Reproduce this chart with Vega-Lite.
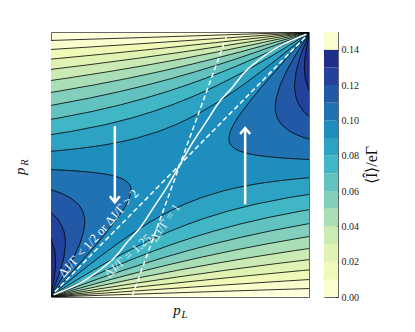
{
"$schema":"https://vega.github.io/schema/vega-lite/v6.json",
"background":"white",
"padding":{"left":12,"top":31,"right":5,"bottom":5},
"spacing":15,
"bounds":"flush",
"config":{
 "view":{"stroke":"#666","strokeWidth":1,"fill":"#ffffd9"},
 "axis":{"labelFont":"Liberation Serif","labelFontSize":10,"labelColor":"#222","tickColor":"#222","tickWidth":0.8,"domain":false,"grid":false,"tickSize":-4,"labelPadding":7,"labelFlush":false,"labelOverlap":false,"titleFont":"Liberation Serif"}
},
"datasets":{
"c":[
{"L":0.01,"h":"lo","x":-1,"y":-1},{"L":0.01,"h":"lo","x":-0.39,"y":-0.98},{"L":0.01,"h":"lo","x":0.232,"y":-0.96},{"L":0.01,"h":"lo","x":0.868,"y":-0.94},{"L":0.01,"h":"lo","x":1.518,"y":-0.92},{"L":0.01,"h":"lo","x":2,"y":0.012},
{"L":0.01,"h":"hi","x":1,"y":1},{"L":0.01,"h":"hi","x":0.39,"y":0.98},{"L":0.01,"h":"hi","x":-0.232,"y":0.96},{"L":0.01,"h":"hi","x":-0.868,"y":0.94},{"L":0.01,"h":"hi","x":-1.518,"y":0.92},{"L":0.01,"h":"hi","x":-2,"y":-0.012},
{"L":0.02,"h":"lo","x":-1,"y":-1},{"L":0.02,"h":"lo","x":-0.571,"y":-0.97},{"L":0.02,"h":"lo","x":-0.129,"y":-0.94},{"L":0.02,"h":"lo","x":0.327,"y":-0.91},{"L":0.02,"h":"lo","x":0.799,"y":-0.88},{"L":0.02,"h":"lo","x":1.288,"y":-0.85},{"L":0.02,"h":"lo","x":2,"y":0.012},
{"L":0.02,"h":"hi","x":1,"y":1},{"L":0.02,"h":"hi","x":0.571,"y":0.97},{"L":0.02,"h":"hi","x":0.129,"y":0.94},{"L":0.02,"h":"hi","x":-0.327,"y":0.91},{"L":0.02,"h":"hi","x":-0.799,"y":0.88},{"L":0.02,"h":"hi","x":-1.288,"y":0.85},{"L":0.02,"h":"hi","x":-2,"y":-0.012},
{"L":0.03,"h":"lo","x":-1,"y":-1},{"L":0.03,"h":"lo","x":-0.644,"y":-0.96},{"L":0.03,"h":"lo","x":-0.274,"y":-0.92},{"L":0.03,"h":"lo","x":0.111,"y":-0.88},{"L":0.03,"h":"lo","x":0.515,"y":-0.84},{"L":0.03,"h":"lo","x":0.94,"y":-0.8},{"L":0.03,"h":"lo","x":1.389,"y":-0.76},{"L":0.03,"h":"lo","x":2,"y":0.012},
{"L":0.03,"h":"hi","x":1,"y":1},{"L":0.03,"h":"hi","x":0.644,"y":0.96},{"L":0.03,"h":"hi","x":0.274,"y":0.92},{"L":0.03,"h":"hi","x":-0.111,"y":0.88},{"L":0.03,"h":"hi","x":-0.515,"y":0.84},{"L":0.03,"h":"hi","x":-0.94,"y":0.8},{"L":0.03,"h":"hi","x":-1.389,"y":0.76},{"L":0.03,"h":"hi","x":-2,"y":-0.012},
{"L":0.04,"h":"lo","x":-1,"y":-1},{"L":0.04,"h":"lo","x":-0.691,"y":-0.95},{"L":0.04,"h":"lo","x":-0.367,"y":-0.9},{"L":0.04,"h":"lo","x":-0.026,"y":-0.85},{"L":0.04,"h":"lo","x":0.336,"y":-0.8},{"L":0.04,"h":"lo","x":0.723,"y":-0.75},{"L":0.04,"h":"lo","x":1.14,"y":-0.7},{"L":0.04,"h":"lo","x":2,"y":0.012},
{"L":0.04,"h":"hi","x":1,"y":1},{"L":0.04,"h":"hi","x":0.691,"y":0.95},{"L":0.04,"h":"hi","x":0.367,"y":0.9},{"L":0.04,"h":"hi","x":0.026,"y":0.85},{"L":0.04,"h":"hi","x":-0.336,"y":0.8},{"L":0.04,"h":"hi","x":-0.723,"y":0.75},{"L":0.04,"h":"hi","x":-1.14,"y":0.7},{"L":0.04,"h":"hi","x":-2,"y":-0.012},
{"L":0.05,"h":"lo","x":-1,"y":-1},{"L":0.05,"h":"lo","x":-0.773,"y":-0.95},{"L":0.05,"h":"lo","x":-0.537,"y":-0.9},{"L":0.05,"h":"lo","x":-0.289,"y":-0.85},{"L":0.05,"h":"lo","x":-0.026,"y":-0.8},{"L":0.05,"h":"lo","x":0.253,"y":-0.75},{"L":0.05,"h":"lo","x":0.553,"y":-0.7},{"L":0.05,"h":"lo","x":0.878,"y":-0.65},{"L":0.05,"h":"lo","x":1.235,"y":-0.6},{"L":0.05,"h":"lo","x":2,"y":0.012},
{"L":0.05,"h":"hi","x":1,"y":1},{"L":0.05,"h":"hi","x":0.773,"y":0.95},{"L":0.05,"h":"hi","x":0.537,"y":0.9},{"L":0.05,"h":"hi","x":0.289,"y":0.85},{"L":0.05,"h":"hi","x":0.026,"y":0.8},{"L":0.05,"h":"hi","x":-0.253,"y":0.75},{"L":0.05,"h":"hi","x":-0.553,"y":0.7},{"L":0.05,"h":"hi","x":-0.878,"y":0.65},{"L":0.05,"h":"hi","x":-1.235,"y":0.6},{"L":0.05,"h":"hi","x":-2,"y":-0.012},
{"L":0.06,"h":"lo","x":-1,"y":-1},{"L":0.06,"h":"lo","x":-0.829,"y":-0.95},{"L":0.06,"h":"lo","x":-0.65,"y":-0.9},{"L":0.06,"h":"lo","x":-0.464,"y":-0.85},{"L":0.06,"h":"lo","x":-0.268,"y":-0.8},{"L":0.06,"h":"lo","x":-0.06,"y":-0.75},{"L":0.06,"h":"lo","x":0.162,"y":-0.7},{"L":0.06,"h":"lo","x":0.401,"y":-0.65},{"L":0.06,"h":"lo","x":0.662,"y":-0.6},{"L":0.06,"h":"lo","x":0.951,"y":-0.55},{"L":0.06,"h":"lo","x":1.275,"y":-0.5},{"L":0.06,"h":"lo","x":2,"y":0.012},
{"L":0.06,"h":"hi","x":1,"y":1},{"L":0.06,"h":"hi","x":0.829,"y":0.95},{"L":0.06,"h":"hi","x":0.65,"y":0.9},{"L":0.06,"h":"hi","x":0.464,"y":0.85},{"L":0.06,"h":"hi","x":0.268,"y":0.8},{"L":0.06,"h":"hi","x":0.06,"y":0.75},{"L":0.06,"h":"hi","x":-0.162,"y":0.7},{"L":0.06,"h":"hi","x":-0.401,"y":0.65},{"L":0.06,"h":"hi","x":-0.662,"y":0.6},{"L":0.06,"h":"hi","x":-0.951,"y":0.55},{"L":0.06,"h":"hi","x":-1.275,"y":0.5},{"L":0.06,"h":"hi","x":-2,"y":-0.012},
{"L":0.07,"h":"lo","x":-1,"y":-1},{"L":0.07,"h":"lo","x":-0.868,"y":-0.95},{"L":0.07,"h":"lo","x":-0.731,"y":-0.9},{"L":0.07,"h":"lo","x":-0.589,"y":-0.85},{"L":0.07,"h":"lo","x":-0.44,"y":-0.8},{"L":0.07,"h":"lo","x":-0.283,"y":-0.75},{"L":0.07,"h":"lo","x":-0.117,"y":-0.7},{"L":0.07,"h":"lo","x":0.061,"y":-0.65},{"L":0.07,"h":"lo","x":0.253,"y":-0.6},{"L":0.07,"h":"lo","x":0.465,"y":-0.55},{"L":0.07,"h":"lo","x":0.7,"y":-0.5},{"L":0.07,"h":"lo","x":0.968,"y":-0.45},{"L":0.07,"h":"lo","x":1.28,"y":-0.4},{"L":0.07,"h":"lo","x":2,"y":0.012},
{"L":0.07,"h":"hi","x":1,"y":1},{"L":0.07,"h":"hi","x":0.868,"y":0.95},{"L":0.07,"h":"hi","x":0.731,"y":0.9},{"L":0.07,"h":"hi","x":0.589,"y":0.85},{"L":0.07,"h":"hi","x":0.44,"y":0.8},{"L":0.07,"h":"hi","x":0.283,"y":0.75},{"L":0.07,"h":"hi","x":0.117,"y":0.7},{"L":0.07,"h":"hi","x":-0.061,"y":0.65},{"L":0.07,"h":"hi","x":-0.253,"y":0.6},{"L":0.07,"h":"hi","x":-0.465,"y":0.55},{"L":0.07,"h":"hi","x":-0.7,"y":0.5},{"L":0.07,"h":"hi","x":-0.968,"y":0.45},{"L":0.07,"h":"hi","x":-1.28,"y":0.4},{"L":0.07,"h":"hi","x":-2,"y":-0.012},
{"L":0.08,"h":"lo","x":-1,"y":-1},{"L":0.08,"h":"lo","x":-0.897,"y":-0.95},{"L":0.08,"h":"lo","x":-0.792,"y":-0.9},{"L":0.08,"h":"lo","x":-0.683,"y":-0.85},{"L":0.08,"h":"lo","x":-0.569,"y":-0.8},{"L":0.08,"h":"lo","x":-0.451,"y":-0.75},{"L":0.08,"h":"lo","x":-0.327,"y":-0.7},{"L":0.08,"h":"lo","x":-0.195,"y":-0.65},{"L":0.08,"h":"lo","x":-0.053,"y":-0.6},{"L":0.08,"h":"lo","x":0.1,"y":-0.55},{"L":0.08,"h":"lo","x":0.269,"y":-0.5},{"L":0.08,"h":"lo","x":0.458,"y":-0.45},{"L":0.08,"h":"lo","x":0.676,"y":-0.4},{"L":0.08,"h":"lo","x":0.935,"y":-0.35},{"L":0.08,"h":"lo","x":1.255,"y":-0.3},{"L":0.08,"h":"lo","x":2,"y":0.012},
{"L":0.08,"h":"hi","x":1,"y":1},{"L":0.08,"h":"hi","x":0.897,"y":0.95},{"L":0.08,"h":"hi","x":0.792,"y":0.9},{"L":0.08,"h":"hi","x":0.683,"y":0.85},{"L":0.08,"h":"hi","x":0.569,"y":0.8},{"L":0.08,"h":"hi","x":0.451,"y":0.75},{"L":0.08,"h":"hi","x":0.327,"y":0.7},{"L":0.08,"h":"hi","x":0.195,"y":0.65},{"L":0.08,"h":"hi","x":0.053,"y":0.6},{"L":0.08,"h":"hi","x":-0.1,"y":0.55},{"L":0.08,"h":"hi","x":-0.269,"y":0.5},{"L":0.08,"h":"hi","x":-0.458,"y":0.45},{"L":0.08,"h":"hi","x":-0.676,"y":0.4},{"L":0.08,"h":"hi","x":-0.935,"y":0.35},{"L":0.08,"h":"hi","x":-1.255,"y":0.3},{"L":0.08,"h":"hi","x":-2,"y":-0.012},
{"L":0.09,"h":"lo","x":-1,"y":-1},{"L":0.09,"h":"lo","x":-0.92,"y":-0.95},{"L":0.09,"h":"lo","x":-0.839,"y":-0.9},{"L":0.09,"h":"lo","x":-0.756,"y":-0.85},{"L":0.09,"h":"lo","x":-0.67,"y":-0.8},{"L":0.09,"h":"lo","x":-0.582,"y":-0.75},{"L":0.09,"h":"lo","x":-0.49,"y":-0.7},{"L":0.09,"h":"lo","x":-0.393,"y":-0.65},{"L":0.09,"h":"lo","x":-0.292,"y":-0.6},{"L":0.09,"h":"lo","x":-0.184,"y":-0.55},{"L":0.09,"h":"lo","x":-0.067,"y":-0.5},{"L":0.09,"h":"lo","x":0.062,"y":-0.45},{"L":0.09,"h":"lo","x":0.207,"y":-0.4},{"L":0.09,"h":"lo","x":0.374,"y":-0.35},{"L":0.09,"h":"lo","x":0.576,"y":-0.3},{"L":0.09,"h":"lo","x":0.833,"y":-0.25},{"L":0.09,"h":"lo","x":0.994,"y":-0.225},{"L":0.09,"h":"lo","x":1.187,"y":-0.2},{"L":0.09,"h":"lo","x":2,"y":0.012},
{"L":0.09,"h":"hi","x":1,"y":1},{"L":0.09,"h":"hi","x":0.92,"y":0.95},{"L":0.09,"h":"hi","x":0.839,"y":0.9},{"L":0.09,"h":"hi","x":0.756,"y":0.85},{"L":0.09,"h":"hi","x":0.67,"y":0.8},{"L":0.09,"h":"hi","x":0.582,"y":0.75},{"L":0.09,"h":"hi","x":0.49,"y":0.7},{"L":0.09,"h":"hi","x":0.393,"y":0.65},{"L":0.09,"h":"hi","x":0.292,"y":0.6},{"L":0.09,"h":"hi","x":0.184,"y":0.55},{"L":0.09,"h":"hi","x":0.067,"y":0.5},{"L":0.09,"h":"hi","x":-0.062,"y":0.45},{"L":0.09,"h":"hi","x":-0.207,"y":0.4},{"L":0.09,"h":"hi","x":-0.374,"y":0.35},{"L":0.09,"h":"hi","x":-0.576,"y":0.3},{"L":0.09,"h":"hi","x":-0.833,"y":0.25},{"L":0.09,"h":"hi","x":-0.994,"y":0.225},{"L":0.09,"h":"hi","x":-1.187,"y":0.2},{"L":0.09,"h":"hi","x":-2,"y":-0.012},
{"L":0.1,"h":"lo","x":-1,"y":-1},{"L":0.1,"h":"lo","x":-0.939,"y":-0.95},{"L":0.1,"h":"lo","x":-0.877,"y":-0.9},{"L":0.1,"h":"lo","x":-0.814,"y":-0.85},{"L":0.1,"h":"lo","x":-0.751,"y":-0.8},{"L":0.1,"h":"lo","x":-0.686,"y":-0.75},{"L":0.1,"h":"lo","x":-0.62,"y":-0.7},{"L":0.1,"h":"lo","x":-0.552,"y":-0.65},{"L":0.1,"h":"lo","x":-0.483,"y":-0.6},{"L":0.1,"h":"lo","x":-0.411,"y":-0.55},{"L":0.1,"h":"lo","x":-0.335,"y":-0.5},{"L":0.1,"h":"lo","x":-0.255,"y":-0.45},{"L":0.1,"h":"lo","x":-0.169,"y":-0.4},{"L":0.1,"h":"lo","x":-0.074,"y":-0.35},{"L":0.1,"h":"lo","x":0.034,"y":-0.3},{"L":0.1,"h":"lo","x":0.163,"y":-0.25},{"L":0.1,"h":"lo","x":0.328,"y":-0.2},{"L":0.1,"h":"lo","x":0.434,"y":-0.175},{"L":0.1,"h":"lo","x":0.567,"y":-0.15},{"L":0.1,"h":"lo","x":0.665,"y":-0.135},{"L":0.1,"h":"lo","x":0.784,"y":-0.12},{"L":0.1,"h":"lo","x":0.878,"y":-0.11},{"L":0.1,"h":"lo","x":0.989,"y":-0.1},{"L":0.1,"h":"lo","x":1.286,"y":-0.08},{"L":0.1,"h":"lo","x":2,"y":0.012},
{"L":0.1,"h":"hi","x":1,"y":1},{"L":0.1,"h":"hi","x":0.939,"y":0.95},{"L":0.1,"h":"hi","x":0.877,"y":0.9},{"L":0.1,"h":"hi","x":0.814,"y":0.85},{"L":0.1,"h":"hi","x":0.751,"y":0.8},{"L":0.1,"h":"hi","x":0.686,"y":0.75},{"L":0.1,"h":"hi","x":0.62,"y":0.7},{"L":0.1,"h":"hi","x":0.552,"y":0.65},{"L":0.1,"h":"hi","x":0.483,"y":0.6},{"L":0.1,"h":"hi","x":0.411,"y":0.55},{"L":0.1,"h":"hi","x":0.335,"y":0.5},{"L":0.1,"h":"hi","x":0.255,"y":0.45},{"L":0.1,"h":"hi","x":0.169,"y":0.4},{"L":0.1,"h":"hi","x":0.074,"y":0.35},{"L":0.1,"h":"hi","x":-0.034,"y":0.3},{"L":0.1,"h":"hi","x":-0.163,"y":0.25},{"L":0.1,"h":"hi","x":-0.328,"y":0.2},{"L":0.1,"h":"hi","x":-0.434,"y":0.175},{"L":0.1,"h":"hi","x":-0.567,"y":0.15},{"L":0.1,"h":"hi","x":-0.665,"y":0.135},{"L":0.1,"h":"hi","x":-0.784,"y":0.12},{"L":0.1,"h":"hi","x":-0.878,"y":0.11},{"L":0.1,"h":"hi","x":-0.989,"y":0.1},{"L":0.1,"h":"hi","x":-1.286,"y":0.08},{"L":0.1,"h":"hi","x":-2,"y":-0.012},
{"L":0.11,"h":"lo","x":-1,"y":-1},{"L":0.11,"h":"lo","x":-0.954,"y":-0.95},{"L":0.11,"h":"lo","x":-0.908,"y":-0.9},{"L":0.11,"h":"lo","x":-0.816,"y":-0.8},{"L":0.11,"h":"lo","x":-0.727,"y":-0.7},{"L":0.11,"h":"lo","x":-0.639,"y":-0.6},{"L":0.11,"h":"lo","x":-0.555,"y":-0.5},{"L":0.11,"h":"lo","x":-0.476,"y":-0.4},{"L":0.11,"h":"lo","x":-0.441,"y":-0.35},{"L":0.11,"h":"lo","x":-0.41,"y":-0.3},{"L":0.11,"h":"lo","x":-0.386,"y":-0.25},{"L":0.11,"h":"lo","x":-0.375,"y":-0.2},{"L":0.11,"h":"lo","x":-0.378,"y":-0.17},{"L":0.11,"h":"lo","x":-0.387,"y":-0.15},{"L":0.11,"h":"lo","x":-0.419,"y":-0.12},{"L":0.11,"h":"lo","x":-0.46,"y":-0.1},{"L":0.11,"h":"lo","x":-0.532,"y":-0.08},{"L":0.11,"h":"lo","x":-0.587,"y":-0.07},{"L":0.11,"h":"lo","x":-0.664,"y":-0.06},{"L":0.11,"h":"lo","x":-0.775,"y":-0.05},{"L":0.11,"h":"lo","x":-0.851,"y":-0.045},{"L":0.11,"h":"lo","x":-0.947,"y":-0.04},{"L":0.11,"h":"lo","x":-1.072,"y":-0.035},{"L":0.11,"h":"lo","x":-2,"y":0.012},
{"L":0.11,"h":"hi","x":1,"y":1},{"L":0.11,"h":"hi","x":0.954,"y":0.95},{"L":0.11,"h":"hi","x":0.908,"y":0.9},{"L":0.11,"h":"hi","x":0.816,"y":0.8},{"L":0.11,"h":"hi","x":0.727,"y":0.7},{"L":0.11,"h":"hi","x":0.639,"y":0.6},{"L":0.11,"h":"hi","x":0.555,"y":0.5},{"L":0.11,"h":"hi","x":0.476,"y":0.4},{"L":0.11,"h":"hi","x":0.441,"y":0.35},{"L":0.11,"h":"hi","x":0.41,"y":0.3},{"L":0.11,"h":"hi","x":0.386,"y":0.25},{"L":0.11,"h":"hi","x":0.375,"y":0.2},{"L":0.11,"h":"hi","x":0.378,"y":0.17},{"L":0.11,"h":"hi","x":0.387,"y":0.15},{"L":0.11,"h":"hi","x":0.419,"y":0.12},{"L":0.11,"h":"hi","x":0.46,"y":0.1},{"L":0.11,"h":"hi","x":0.532,"y":0.08},{"L":0.11,"h":"hi","x":0.587,"y":0.07},{"L":0.11,"h":"hi","x":0.664,"y":0.06},{"L":0.11,"h":"hi","x":0.775,"y":0.05},{"L":0.11,"h":"hi","x":0.851,"y":0.045},{"L":0.11,"h":"hi","x":0.947,"y":0.04},{"L":0.11,"h":"hi","x":1.072,"y":0.035},{"L":0.11,"h":"hi","x":2,"y":-0.012},
{"L":0.12,"h":"lo","x":-1,"y":-1},{"L":0.12,"h":"lo","x":-0.966,"y":-0.95},{"L":0.12,"h":"lo","x":-0.933,"y":-0.9},{"L":0.12,"h":"lo","x":-0.871,"y":-0.8},{"L":0.12,"h":"lo","x":-0.815,"y":-0.7},{"L":0.12,"h":"lo","x":-0.769,"y":-0.6},{"L":0.12,"h":"lo","x":-0.738,"y":-0.5},{"L":0.12,"h":"lo","x":-0.73,"y":-0.43},{"L":0.12,"h":"lo","x":-0.733,"y":-0.4},{"L":0.12,"h":"lo","x":-0.747,"y":-0.35},{"L":0.12,"h":"lo","x":-0.78,"y":-0.3},{"L":0.12,"h":"lo","x":-0.844,"y":-0.25},{"L":0.12,"h":"lo","x":-0.905,"y":-0.22},{"L":0.12,"h":"lo","x":-0.96,"y":-0.2},{"L":0.12,"h":"lo","x":-1.031,"y":-0.18},{"L":0.12,"h":"lo","x":-2,"y":0.012},
{"L":0.12,"h":"hi","x":1,"y":1},{"L":0.12,"h":"hi","x":0.966,"y":0.95},{"L":0.12,"h":"hi","x":0.933,"y":0.9},{"L":0.12,"h":"hi","x":0.871,"y":0.8},{"L":0.12,"h":"hi","x":0.815,"y":0.7},{"L":0.12,"h":"hi","x":0.769,"y":0.6},{"L":0.12,"h":"hi","x":0.738,"y":0.5},{"L":0.12,"h":"hi","x":0.73,"y":0.43},{"L":0.12,"h":"hi","x":0.733,"y":0.4},{"L":0.12,"h":"hi","x":0.747,"y":0.35},{"L":0.12,"h":"hi","x":0.78,"y":0.3},{"L":0.12,"h":"hi","x":0.844,"y":0.25},{"L":0.12,"h":"hi","x":0.905,"y":0.22},{"L":0.12,"h":"hi","x":0.96,"y":0.2},{"L":0.12,"h":"hi","x":1.031,"y":0.18},{"L":0.12,"h":"hi","x":2,"y":-0.012},
{"L":0.13,"h":"lo","x":-1,"y":-1},{"L":0.13,"h":"lo","x":-0.977,"y":-0.95},{"L":0.13,"h":"lo","x":-0.955,"y":-0.9},{"L":0.13,"h":"lo","x":-0.918,"y":-0.8},{"L":0.13,"h":"lo","x":-0.891,"y":-0.7},{"L":0.13,"h":"lo","x":-0.879,"y":-0.6},{"L":0.13,"h":"lo","x":-0.882,"y":-0.55},{"L":0.13,"h":"lo","x":-0.892,"y":-0.5},{"L":0.13,"h":"lo","x":-0.914,"y":-0.45},{"L":0.13,"h":"lo","x":-0.949,"y":-0.4},{"L":0.13,"h":"lo","x":-1.006,"y":-0.35},{"L":0.13,"h":"lo","x":-2,"y":0.012},
{"L":0.13,"h":"hi","x":1,"y":1},{"L":0.13,"h":"hi","x":0.977,"y":0.95},{"L":0.13,"h":"hi","x":0.955,"y":0.9},{"L":0.13,"h":"hi","x":0.918,"y":0.8},{"L":0.13,"h":"hi","x":0.891,"y":0.7},{"L":0.13,"h":"hi","x":0.879,"y":0.6},{"L":0.13,"h":"hi","x":0.882,"y":0.55},{"L":0.13,"h":"hi","x":0.892,"y":0.5},{"L":0.13,"h":"hi","x":0.914,"y":0.45},{"L":0.13,"h":"hi","x":0.949,"y":0.4},{"L":0.13,"h":"hi","x":1.006,"y":0.35},{"L":0.13,"h":"hi","x":2,"y":-0.012},
{"L":0.14,"h":"lo","x":-1,"y":-1},{"L":0.14,"h":"lo","x":-0.974,"y":-0.9},{"L":0.14,"h":"lo","x":-0.958,"y":-0.8},{"L":0.14,"h":"lo","x":-0.954,"y":-0.73},{"L":0.14,"h":"lo","x":-0.961,"y":-0.65},{"L":0.14,"h":"lo","x":-0.994,"y":-0.55},{"L":0.14,"h":"lo","x":-1.025,"y":-0.5},{"L":0.14,"h":"lo","x":-2,"y":0.012},
{"L":0.14,"h":"hi","x":1,"y":1},{"L":0.14,"h":"hi","x":0.974,"y":0.9},{"L":0.14,"h":"hi","x":0.958,"y":0.8},{"L":0.14,"h":"hi","x":0.954,"y":0.73},{"L":0.14,"h":"hi","x":0.961,"y":0.65},{"L":0.14,"h":"hi","x":0.994,"y":0.55},{"L":0.14,"h":"hi","x":1.025,"y":0.5},{"L":0.14,"h":"hi","x":2,"y":-0.012}
],
"w":[
{"s":"d","x":-0.96,"y":-0.96},{"s":"d","x":0.96,"y":0.96},
{"s":"k","x":-0.366,"y":-0.99},{"s":"k","x":0.355,"y":0.96},
{"s":"c","x":-0.97,"y":-0.983},{"s":"c","x":-0.9,"y":-0.955},{"s":"c","x":-0.8,"y":-0.91},{"s":"c","x":-0.7,"y":-0.855},{"s":"c","x":-0.6,"y":-0.785},{"s":"c","x":-0.5,"y":-0.7},{"s":"c","x":-0.4,"y":-0.58},{"s":"c","x":-0.3,"y":-0.47},{"s":"c","x":-0.2,"y":-0.32},{"s":"c","x":-0.1,"y":-0.17},{"s":"c","x":0,"y":0},{"s":"c","x":0.1,"y":0.17},{"s":"c","x":0.2,"y":0.32},{"s":"c","x":0.3,"y":0.47},{"s":"c","x":0.4,"y":0.58},{"s":"c","x":0.5,"y":0.7},{"s":"c","x":0.6,"y":0.785},{"s":"c","x":0.7,"y":0.855},{"s":"c","x":0.8,"y":0.91},{"s":"c","x":0.9,"y":0.955},{"s":"c","x":0.97,"y":0.983}
],
"a":[
{"d":"dn","x":-0.5,"y0":0.29,"y1":-0.285},
{"d":"up","x":0.5,"y0":-0.3,"y1":0.275}
],
"t":[
{"k":1,"txt":"ΔJ/Γ < 1/2 or ΔJ/Γ > 2","x":-0.625,"y":-0.52},
{"k":2,"txt":"ΔJ/Γ = 1.25","x":-0.4,"y":-0.69},
{"k":3,"txt":"ΔJ/Γ = 1","x":-0.115,"y":-0.44},
{"k":4,"txt":"p","x":0,"y":-1},
{"k":5,"txt":"L","x":0,"y":-1},
{"k":6,"txt":"p","x":-0.99,"y":0},
{"k":7,"txt":"R","x":-0.99,"y":0}
],
"cb":[
{"b":0,"lo":0,"hi":0.01},{"b":1,"lo":0.01,"hi":0.02},{"b":2,"lo":0.02,"hi":0.03},{"b":3,"lo":0.03,"hi":0.04},{"b":4,"lo":0.04,"hi":0.05},{"b":5,"lo":0.05,"hi":0.06},{"b":6,"lo":0.06,"hi":0.07},{"b":7,"lo":0.07,"hi":0.08},{"b":8,"lo":0.08,"hi":0.09},{"b":9,"lo":0.09,"hi":0.1},{"b":10,"lo":0.1,"hi":0.11},{"b":11,"lo":0.11,"hi":0.12},{"b":12,"lo":0.12,"hi":0.13},{"b":13,"lo":0.13,"hi":0.14},{"b":14,"lo":0.14,"hi":0.15}
]
},
"hconcat":[
{
"width":258,"height":265,
"layer":[
{"data":{"name":"c"},"transform":[{"filter":"datum.h == 'lo'"}],
 "mark":{"type":"area","orient":"horizontal","clip":true},
 "encoding":{
  "y":{"field":"y","type":"quantitative","scale":{"domain":[-1,1],"nice":false,"zero":false},"axis":{"values":[-1,-0.5,0,0.5,1],"format":".1f","title":null}},
  "x":{"field":"x","type":"quantitative","stack":null,"scale":{"domain":[-0.99,0.99],"nice":false,"zero":false},"axis":{"values":[-0.5,0,0.5],"format":".1f","title":null}},
  "x2":{"datum":-1.5},
  "color":{"field":"L","type":"ordinal","scale":{"domain":[0.01,0.02,0.03,0.04,0.05,0.06,0.07,0.08,0.09,0.1,0.11,0.12,0.13,0.14],"range":["#fafdce","#f1f9b9","#e0f3b2","#ccebb4","#aadeb7","#84cfbb","#62c2bf","#41b6c4","#2ea2c2","#1d8ebe","#2072b2","#2258a5","#24429b","#1f2f88"]},"legend":null}
 }},
{"data":{"name":"c"},"transform":[{"filter":"datum.h == 'hi'"}],
 "mark":{"type":"area","orient":"horizontal","clip":true},
 "encoding":{
  "y":{"field":"y","type":"quantitative","axis":null},
  "x":{"field":"x","type":"quantitative","stack":null,"axis":null},
  "x2":{"datum":1.5},
  "color":{"field":"L","type":"ordinal","legend":null}
 }},
{"data":{"name":"c"},
 "mark":{"type":"line","clip":true,"color":"#000","strokeWidth":0.8},
 "encoding":{
  "x":{"field":"x","type":"quantitative","axis":{"orient":"top","values":[-0.5,0,0.5],"labels":false,"title":null}},
  "y":{"field":"y","type":"quantitative","axis":{"orient":"right","values":[-1,-0.5,0,0.5,1],"labels":false,"title":null}},
  "detail":[{"field":"L","type":"nominal"},{"field":"h","type":"nominal"}],
  "order":{"field":"y","type":"quantitative"}
 }},
{"data":{"name":"w"},"transform":[{"filter":"datum.s == 'd'"}],
 "mark":{"type":"line","clip":true,"color":"white","strokeWidth":1.5,"strokeDash":[5,3]},
 "encoding":{"x":{"field":"x","type":"quantitative","axis":null},"y":{"field":"y","type":"quantitative","axis":null}}},
{"data":{"name":"w"},"transform":[{"filter":"datum.s == 'k'"}],
 "mark":{"type":"line","clip":true,"color":"white","strokeWidth":1.5,"strokeDash":[5,3]},
 "encoding":{"x":{"field":"x","type":"quantitative","axis":null},"y":{"field":"y","type":"quantitative","axis":null}}},
{"data":{"name":"w"},"transform":[{"filter":"datum.s == 'c'"}],
 "mark":{"type":"line","clip":true,"color":"white","strokeWidth":1.5,"interpolate":"monotone"},
 "encoding":{"x":{"field":"x","type":"quantitative","axis":null},"y":{"field":"y","type":"quantitative","axis":null}}},
{"data":{"name":"a"},
 "mark":{"type":"rule","color":"white","strokeWidth":2.5},
 "encoding":{"x":{"field":"x","type":"quantitative","axis":null},"y":{"field":"y0","type":"quantitative","axis":null},"y2":{"field":"y1"}}},
{"data":{"name":"a"},"transform":[{"filter":"datum.d == 'dn'"}],
 "mark":{"type":"point","shape":"M-1,-1.2L0,0L1,-1.2","filled":false,"color":"white","strokeWidth":2.5,"size":100,"opacity":1},
 "encoding":{"x":{"field":"x","type":"quantitative","axis":null},"y":{"field":"y1","type":"quantitative","axis":null}}},
{"data":{"name":"a"},"transform":[{"filter":"datum.d == 'up'"}],
 "mark":{"type":"point","shape":"M-1,1.2L0,0L1,1.2","filled":false,"color":"white","strokeWidth":2.5,"size":100,"opacity":1},
 "encoding":{"x":{"field":"x","type":"quantitative","axis":null},"y":{"field":"y1","type":"quantitative","axis":null}}},
{"data":{"name":"t"},"transform":[{"filter":"datum.k == 1"}],
 "mark":{"type":"text","angle":312,"font":"Liberation Serif","fontSize":12.5,"color":"white"},
 "encoding":{"x":{"field":"x","type":"quantitative","axis":null},"y":{"field":"y","type":"quantitative","axis":null},"text":{"field":"txt"}}},
{"data":{"name":"t"},"transform":[{"filter":"datum.k == 2"}],
 "mark":{"type":"text","angle":318,"font":"Liberation Serif","fontSize":12.5,"color":"white","opacity":0.8},
 "encoding":{"x":{"field":"x","type":"quantitative","axis":null},"y":{"field":"y","type":"quantitative","axis":null},"text":{"field":"txt"}}},
{"data":{"name":"t"},"transform":[{"filter":"datum.k == 3"}],
 "mark":{"type":"text","angle":305,"font":"Liberation Serif","fontSize":12.5,"color":"white","opacity":0.8},
 "encoding":{"x":{"field":"x","type":"quantitative","axis":null},"y":{"field":"y","type":"quantitative","axis":null},"text":{"field":"txt"}}},
{"data":{"name":"t"},"transform":[{"filter":"datum.k == 4"}],
 "mark":{"type":"text","font":"Liberation Serif","fontSize":15,"fontStyle":"italic","color":"#111","align":"center","baseline":"alphabetic","dx":-3,"dy":17.5},
 "encoding":{"x":{"field":"x","type":"quantitative","axis":null},"y":{"field":"y","type":"quantitative","axis":null},"text":{"field":"txt"}}},
{"data":{"name":"t"},"transform":[{"filter":"datum.k == 5"}],
 "mark":{"type":"text","font":"Liberation Serif","fontSize":10.5,"fontStyle":"italic","color":"#111","align":"center","baseline":"alphabetic","dx":4.5,"dy":20.5},
 "encoding":{"x":{"field":"x","type":"quantitative","axis":null},"y":{"field":"y","type":"quantitative","axis":null},"text":{"field":"txt"}}},
{"data":{"name":"t"},"transform":[{"filter":"datum.k == 6"}],
 "mark":{"type":"text","angle":270,"font":"Liberation Serif","fontSize":15,"fontStyle":"italic","color":"#111","align":"center","baseline":"alphabetic","dx":-6.7,"dy":-26},
 "encoding":{"x":{"field":"x","type":"quantitative","axis":null},"y":{"field":"y","type":"quantitative","axis":null},"text":{"field":"txt"}}},
{"data":{"name":"t"},"transform":[{"filter":"datum.k == 7"}],
 "mark":{"type":"text","angle":270,"font":"Liberation Serif","fontSize":10.5,"fontStyle":"italic","color":"#111","align":"center","baseline":"alphabetic","dx":2,"dy":-23.5},
 "encoding":{"x":{"field":"x","type":"quantitative","axis":null},"y":{"field":"y","type":"quantitative","axis":null},"text":{"field":"txt"}}}
]
},
{
"width":14,"height":265,
"data":{"name":"cb"},
"mark":{"type":"rect"},
"encoding":{
 "y":{"field":"lo","type":"quantitative","scale":{"domain":[0,0.15],"nice":false,"zero":false},"axis":{"orient":"right","values":[0,0.02,0.04,0.06,0.08,0.1,0.12,0.14],"format":".2f","tickSize":-3,"labelPadding":6,"title":"⟨Î⟩/eΓ","titleAngle":270,"titleFont":"Liberation Serif","titleFontSize":16,"titleFontWeight":"normal","titleColor":"#111","titlePadding":21}},
 "y2":{"field":"hi"},
 "color":{"field":"b","type":"ordinal","scale":{"domain":[0,1,2,3,4,5,6,7,8,9,10,11,12,13,14],"range":["#ffffd9","#fafdce","#f1f9b9","#e0f3b2","#ccebb4","#aadeb7","#84cfbb","#62c2bf","#41b6c4","#2ea2c2","#1d8ebe","#2072b2","#2258a5","#24429b","#1f2f88"]},"legend":null}
}
}
]
}
